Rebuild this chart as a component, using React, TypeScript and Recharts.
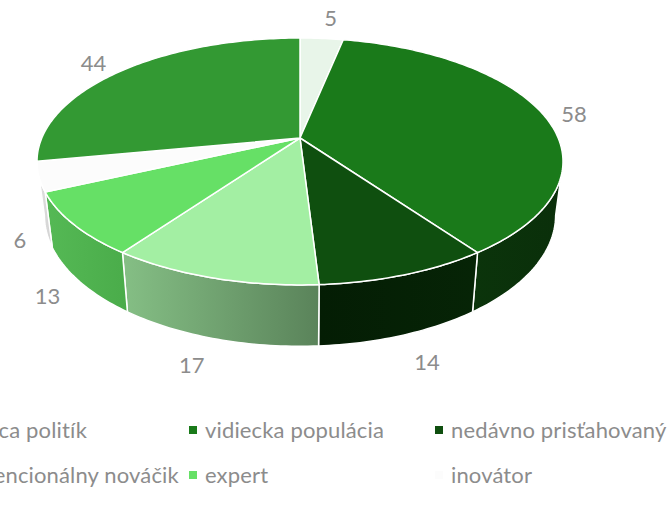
import { PieChart, Pie, Legend } from 'recharts'

const categories = [
  'tvorca politík',
  'vidiecka populácia',
  'nedávno prisťahovaný',
  'konvencionálny nováčik',
  'expert',
  'inovátor',
  '',
]
const values = [5, 58, 14, 17, 13, 6, 44]
const topColors = ['#e8f5e9', '#1a7a1a', '#0f4f0f', '#a3efa3', '#66e066', '#fcfcfc', '#339933']
const wallFrom = ['#e8f5e9', '#0b340b', '#041d04', '#85bf85', '#55b955', '#e2e2e2', '#339933']
const wallTo = ['#e8f5e9', '#0a2f0a', '#062406', '#5a835a', '#4aac4a', '#d2d2d2', '#339933']

// label offset from the projected slice middle
const labelNudge = [
  [9, -21],
  [31, -1],
  [22, 87],
  [-21, 87],
  [-26, 71],
  [-19, 63],
  [-29, -8],
]
// legend text shift, the clipped first column does not line up exactly
const legendNudge = [0, 0, 0, -12, 0, 0, 0]

const data = categories.map((name, i) => ({ name, value: values[i], fill: topColors[i] }))

// perspective projection of the round pie on the page
const K = 0.19
const RX = 258.2
const RY = 119
const BOTTOM_SX = 0.972
const BOTTOM_SY = 1.0625
const BOTTOM_DY = 52.2
const WALL_START = 101
const WALL_END = 259
const FONT = 'Lato, sans-serif'
const TEXT_COLOR = '#8c8c8c'

const toRad = (deg: number) => (deg * Math.PI) / 180

function topPoint(cx: number, cy: number, theta: number) {
  const u = Math.sin(toRad(theta))
  const v = -Math.cos(toRad(theta))
  const den = 1 - K * v
  return [cx + (RX * u) / den, cy + (RY * v) / den]
}

function bottomPoint(cx: number, cy: number, theta: number) {
  const [x, y] = topPoint(cx, cy, theta)
  return [cx + (x - cx) * BOTTOM_SX, cy + BOTTOM_DY + (y - cy) * BOTTOM_SY]
}

function arc(fn: typeof topPoint, cx: number, cy: number, from: number, to: number) {
  const steps = Math.max(2, Math.ceil(Math.abs(to - from)))
  const pts: string[] = []
  for (let i = 0; i <= steps; i++) {
    const [x, y] = fn(cx, cy, from + ((to - from) * i) / steps)
    pts.push(`${x.toFixed(2)} ${y.toFixed(2)}`)
  }
  return pts
}

function TopSlice(props: any) {
  const { cx, cy, startAngle, endAngle, fill } = props
  const a = 90 - Math.max(startAngle, endAngle)
  const b = 90 - Math.min(startAngle, endAngle)
  const d = `M${cx} ${cy} L${arc(topPoint, cx, cy, a, b).join(' L')} Z`
  return <path d={d} fill={fill} stroke="#fff" strokeWidth={1.5} strokeLinejoin="round" />
}

function WallSlice(props: any) {
  const { cx, cy, startAngle, endAngle, index } = props
  const a = Math.max(90 - Math.max(startAngle, endAngle), WALL_START)
  const b = Math.min(90 - Math.min(startAngle, endAngle), WALL_END)
  if (a >= b) return <g />
  const upper = arc(topPoint, cx, cy, a, b)
  const lower = arc(bottomPoint, cx, cy, b, a)
  const d = `M${[...upper, ...lower].join(' L')} Z`
  return <path d={d} fill={`url(#wall-${index})`} stroke="#fff" strokeWidth={1.5} strokeLinejoin="round" />
}

function renderLabel(props: any) {
  const { cx, cy, midAngle, index, value } = props
  const [x, y] = topPoint(cx, cy, 90 - midAngle)
  return (
    <text
      x={x + labelNudge[index][0]}
      y={y + labelNudge[index][1]}
      fill={TEXT_COLOR}
      fontFamily={FONT}
      fontSize={22}
      textAnchor="middle"
      dominantBaseline="central"
    >
      {value}
    </text>
  )
}

function LegendBlock(props: any) {
  const seen = new Set<string>()
  const items = (props.payload || []).filter((p: any) => {
    if (!p.value || seen.has(p.value)) return false
    seen.add(p.value)
    return true
  })
  const ordered = categories
    .map((name) => items.find((p: any) => p.value === name))
    .filter(Boolean)
  return (
    <div style={{ position: 'relative', width: 672, height: 529 }}>
      {ordered.map((item: any, i: number) => {
        const col = i % 3
        const row = Math.floor(i / 3)
        const left = -41 + col * 246
        const top = 430 + row * 45
        return (
          <div key={item.value}>
            <div
              style={{
                position: 'absolute',
                left: left - 16,
                top: top - 4,
                width: 8,
                height: 8,
                background: topColors[categories.indexOf(item.value)],
              }}
            />
            <div
              style={{
                position: 'absolute',
                left: left + legendNudge[i],
                top: top - 15,
                lineHeight: '30px',
                fontFamily: FONT,
                fontSize: 22,
                letterSpacing: 0.15,
                color: TEXT_COLOR,
                whiteSpace: 'nowrap',
              }}
            >
              {item.value}
            </div>
          </div>
        )
      })}
    </div>
  )
}

export default function App() {
  return (
    <div
      style={{
        position: 'absolute',
        left: 0,
        top: 0,
        width: 672,
        height: 529,
        overflow: 'hidden',
        background: '#fff',
      }}
    >
      <PieChart width={672} height={529} margin={{ top: 0, right: 0, bottom: 0, left: 0 }}>
        <defs>
          {wallFrom.map((c, i) => (
            <linearGradient key={i} id={`wall-${i}`} x1="0" y1="0" x2="1" y2="0">
              <stop offset="0" stopColor={c} />
              <stop offset="1" stopColor={wallTo[i]} />
            </linearGradient>
          ))}
        </defs>
        <Pie
          data={data}
          dataKey="value"
          nameKey="name"
          cx={300}
          cy={138}
          outerRadius={100}
          startAngle={90}
          endAngle={-270}
          legendType="none"
          shape={WallSlice}
          isAnimationActive={false}
        />
        <Pie
          data={data}
          dataKey="value"
          nameKey="name"
          cx={300}
          cy={138}
          outerRadius={100}
          startAngle={90}
          endAngle={-270}
          shape={TopSlice}
          label={renderLabel}
          labelLine={false}
          isAnimationActive={false}
        />
        <Legend
          content={LegendBlock}
          wrapperStyle={{ position: 'absolute', left: 0, top: 0, width: 672, height: 529 }}
        />
      </PieChart>
    </div>
  )
}
